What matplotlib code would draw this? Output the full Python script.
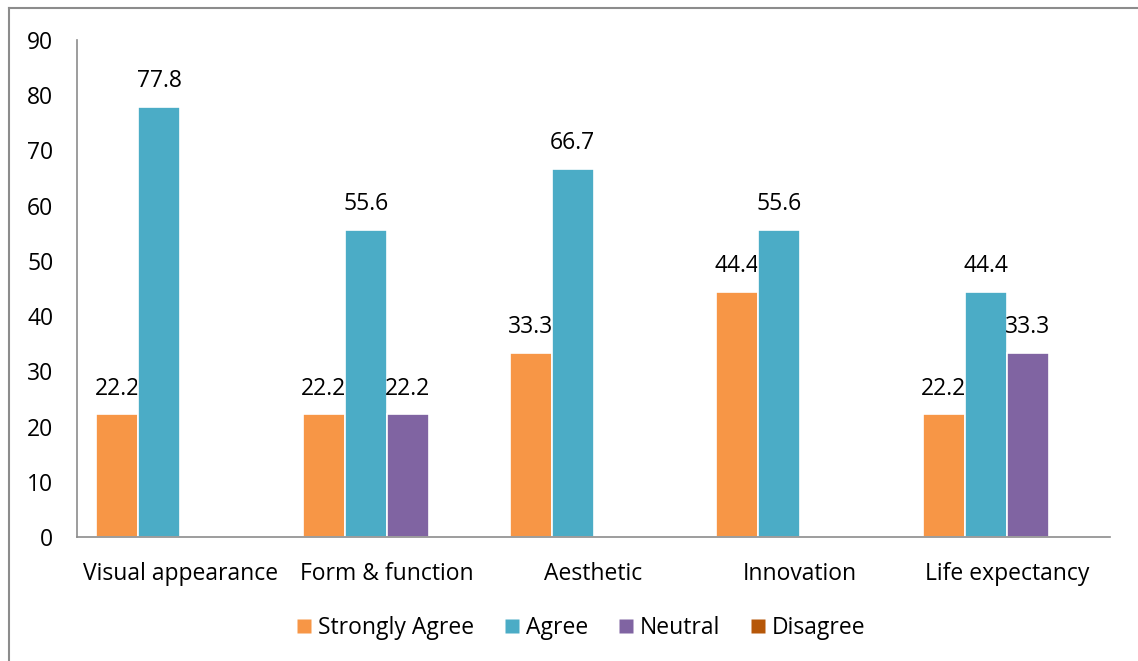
import matplotlib
matplotlib.use("Agg")
import matplotlib.pyplot as plt
import numpy as np
from matplotlib.lines import Line2D

categories = ["Visual appearance", "Form & function", "Aesthetic", "Innovation", "Life expectancy"]
series_names = ["Strongly Agree", "Agree", "Neutral", "Disagree"]
strongly_agree = [22.2, 22.2, 33.3, 44.4, 22.2]
agree = [77.8, 55.6, 66.7, 55.6, 44.4]
neutral = [0, 22.2, 0, 0, 33.3]
disagree = [0, 0, 0, 0, 0]
colors = ["#F79646", "#4BACC6", "#8064A2", "#B65708"]
yticks = [0, 10, 20, 30, 40, 50, 60, 70, 80, 90]

plt.rcParams['font.family'] = ['Open Sans', 'DejaVu Sans']
FS = 16.5

fig = plt.figure(figsize=(11.38, 6.61), dpi=100)
ax = fig.add_axes([77/1138, 1 - 537/661, (1110-77)/1138, (537-40)/661])

x = np.arange(len(categories))
w = 0.203
data = [strongly_agree, agree, neutral, disagree]
for i, (vals, c, name) in enumerate(zip(data, colors, series_names)):
    offs = (i - 1.5) * w
    lws = [1.2 if v > 0 else 0 for v in vals]
    ax.bar(x + offs, vals, w, color=c, edgecolor='white', linewidth=lws, label=name, zorder=3)
    for xi, v in zip(x, vals):
        if v > 0:
            ax.annotate(f"{v:.1f}", (xi + offs, v), xytext=(0, 10), textcoords='offset points',
                        ha='center', va='bottom', fontsize=FS, color='black')

ax.set_xlim(-0.5, len(categories) - 0.5)
ax.set_ylim(0, 90)
ax.set_yticks(yticks)
ax.set_xticks(x)
ax.set_xticklabels(categories, fontsize=FS)
ax.tick_params(axis='y', length=0, pad=17, labelsize=FS)
ax.tick_params(axis='x', length=0, pad=18, labelsize=FS)
for s in ['top', 'right']:
    ax.spines[s].set_visible(False)
for s in ['left', 'bottom']:
    ax.spines[s].set_color('#8c8c8c')
    ax.spines[s].set_linewidth(1.2)
    ax.spines[s].set_zorder(4)

handles = [Line2D([0], [0], marker='s', linestyle='none', markersize=10, markerfacecolor=c,
                  markeredgecolor='none') for c in colors]
fig.legend(handles, series_names, loc='center', bbox_to_anchor=(579/1138, 1 - 628/661), ncol=4,
           frameon=False, fontsize=FS, handletextpad=0.1, columnspacing=1.15, handlelength=1.0)

# figure border (top and left)
fig.add_artist(Line2D([9/1138, 9/1138], [0, 1 - 8/661], transform=fig.transFigure, color='#8c8c8c', lw=1.5))
fig.add_artist(Line2D([9/1138, 1], [1 - 8/661, 1 - 8/661], transform=fig.transFigure, color='#8c8c8c', lw=1.5))

fig.savefig("out.png", dpi=100)
